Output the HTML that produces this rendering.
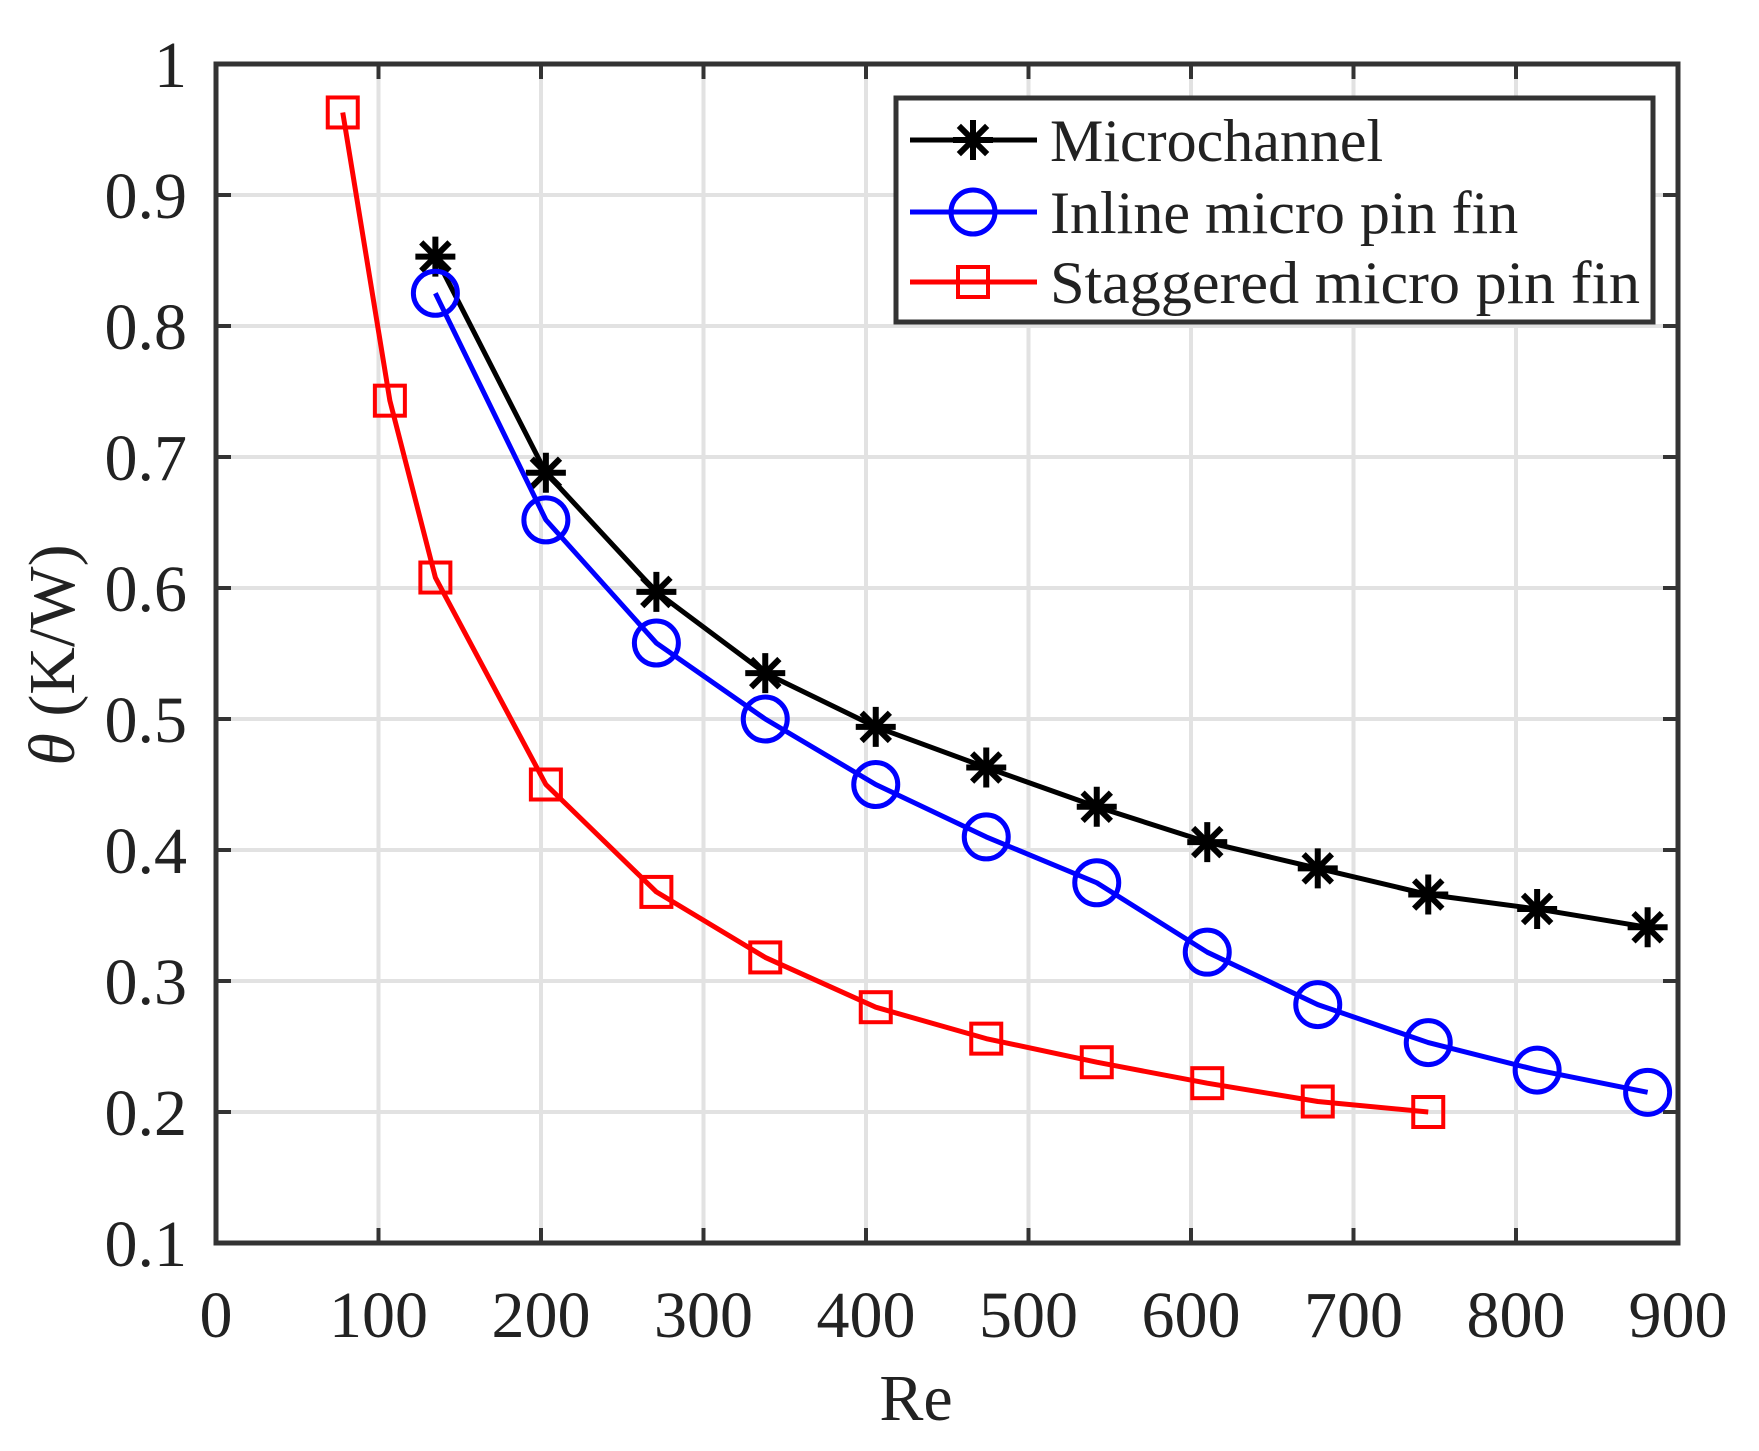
<!DOCTYPE html>
<html><head><meta charset="utf-8"><style>
html,body{margin:0;padding:0;background:#fff;}
svg{display:block;}
text{font-family:"Liberation Serif",serif;fill:#222;}
</style></head><body>
<svg id="s" width="1759" height="1451" viewBox="0 0 1759 1451" xmlns="http://www.w3.org/2000/svg">
<rect x="0" y="0" width="1759" height="1451" fill="#fff"/>
<g id="grid" stroke="#e2e2e2" stroke-width="4"></g>
<g id="ticks" stroke="#333" stroke-width="4"></g>
<g id="series"></g>
<rect x="216" y="64" width="1462" height="1179" fill="none" stroke="#333" stroke-width="5"/>
<g font-size="66" text-anchor="middle">
<text x="216" y="1337">0</text><text x="378.5" y="1337">100</text><text x="541" y="1337">200</text>
<text x="703.5" y="1337">300</text><text x="866" y="1337">400</text><text x="1028.5" y="1337">500</text>
<text x="1191" y="1337">600</text><text x="1353.5" y="1337">700</text><text x="1516" y="1337">800</text>
<text x="1678" y="1337">900</text>
</g>
<g font-size="66" text-anchor="end">
<text x="187" y="87">1</text><text x="187" y="218">0.9</text><text x="187" y="349">0.8</text>
<text x="187" y="480">0.7</text><text x="187" y="611">0.6</text><text x="187" y="742">0.5</text>
<text x="187" y="873">0.4</text><text x="187" y="1004">0.3</text><text x="187" y="1135">0.2</text>
<text x="187" y="1266">0.1</text>
</g>
<text x="916" y="1420" font-size="66" text-anchor="middle">Re</text>
<text transform="translate(74,655) rotate(-90)" font-size="66" text-anchor="middle"><tspan font-style="italic">θ</tspan> (K/W)</text>
<rect x="896" y="98" width="757" height="224" fill="#fff" stroke="#333" stroke-width="5"/>
<g id="leg"></g>
<g font-size="60">
<text x="1050" y="161">Microchannel</text>
<text x="1050" y="233">Inline micro pin fin</text>
<text x="1050" y="303" textLength="590" lengthAdjust="spacingAndGlyphs">Staggered micro pin fin</text>
</g>
</svg>
<script>
const NS="http://www.w3.org/2000/svg";
const X=v=>216+1.625*v, Y=v=>64+(1-v)*1310;
function el(p,t,a){const e=document.createElementNS(NS,t);for(const k in a)e.setAttribute(k,a[k]);p.appendChild(e);return e;}
const g=document.getElementById('grid'),tk=document.getElementById('ticks');
for(let i=1;i<9;i++){el(g,'line',{x1:X(i*100),x2:X(i*100),y1:64,y2:1243});
 el(tk,'line',{x1:X(i*100),x2:X(i*100),y1:1243,y2:1228});el(tk,'line',{x1:X(i*100),x2:X(i*100),y1:64,y2:79});}
for(let i=2;i<10;i++){const y=Y(i/10);el(g,'line',{x1:216,x2:1678,y1:y,y2:y});
 el(tk,'line',{x1:216,x2:231,y1:y,y2:y});el(tk,'line',{x1:1678,x2:1663,y1:y,y2:y});}
const s=document.getElementById('series');
function star(p,cx,cy,c){const r=20;for(let k=0;k<4;k++){const a=k*Math.PI/4;el(p,'line',{x1:cx-r*Math.cos(a),y1:cy-r*Math.sin(a),x2:cx+r*Math.cos(a),y2:cy+r*Math.sin(a),stroke:c,'stroke-width':6});}}
function mark(p,type,cx,cy,c){
 if(type==='s')star(p,cx,cy,c);
 else if(type==='o')el(p,'circle',{cx,cy,r:22,fill:'none',stroke:c,'stroke-width':5});
 else el(p,'rect',{x:cx-15,y:cy-15,width:30,height:30,fill:'none',stroke:c,'stroke-width':4});}
const xs=[135,203,271,338,406,474,542,610,678,746,813,881];
const D=[
 {c:'#000',t:'s',x:xs,y:[.853,.688,.597,.535,.494,.463,.433,.406,.386,.366,.355,.341]},
 {c:'#0000ff',t:'o',x:xs,y:[.825,.652,.558,.500,.450,.410,.375,.322,.282,.253,.232,.215]},
 {c:'#ff0000',t:'q',x:[78,107,135,203,271,338,406,474,542,610,678,746],y:[.963,.743,.608,.450,.368,.318,.280,.256,.238,.222,.208,.200]}];
D.forEach(d=>{el(s,'polyline',{points:d.x.map((v,i)=>X(v)+','+Y(d.y[i])).join(' '),fill:'none',stroke:d.c,'stroke-width':5,'stroke-linejoin':'round'});
 d.x.forEach((v,i)=>mark(s,d.t,X(v),Y(d.y[i]),d.c));});
const lg=document.getElementById('leg');
[[140,D[0]],[212,D[1]],[282,D[2]]].forEach(([y,d])=>{el(lg,'line',{x1:910,x2:1037,y1:y,y2:y,stroke:d.c,'stroke-width':5});mark(lg,d.t,973,y,d.c);});
</script>
</body></html>
